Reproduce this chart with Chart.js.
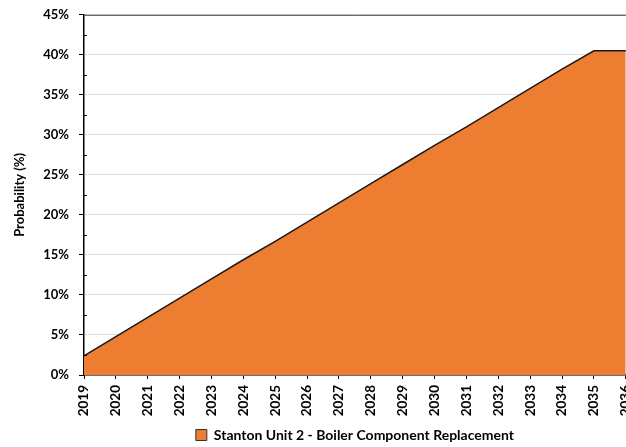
<!DOCTYPE html>
<html>
<head>
<meta charset="utf-8">
<script src="https://cdn.jsdelivr.net/npm/chart.js@4"></script>
<style>
  html, body { margin: 0; padding: 0; background: #fff; overflow: hidden; }
  #wrap { width: 648px; height: 455px; margin-top: -3px; }
</style>
</head>
<body>
<div id="wrap"><canvas id="prob-chart" width="648" height="455"></canvas></div>
<script>
const years = ['2019', '2020', '2021', '2022', '2023', '2024', '2025', '2026', '2027',
               '2028', '2029', '2030', '2031', '2032', '2033', '2034', '2035', '2036'];
const probability = [2.4, 4.8, 7.2, 9.6, 12.0, 14.4, 16.7, 19.1, 21.5,
                     23.9, 26.3, 28.7, 31.0, 33.4, 35.8, 38.2, 40.5, 40.5];
const yTicks = [0, 5, 10, 15, 20, 25, 30, 35, 40, 45];
const seriesName = 'Stanton Unit 2 - Boiler Component Replacement';

const FONT = 'Lato, "Open Sans", sans-serif';
const ORANGE = '#ED7D31';

// small inner tick marks halfway between the labelled y ticks
const minorTicks = {
    id: 'minorTicks',
    afterDraw(chart) {
        const y = chart.scales.y;
        const ctx = chart.ctx;
        ctx.save();
        ctx.strokeStyle = '#000';
        ctx.lineWidth = 1;
        for (let i = 0; i < yTicks.length - 1; i++) {
            const py = Math.round(y.getPixelForValue(yTicks[i] + 2.5)) + 0.5;
            ctx.beginPath();
            ctx.moveTo(chart.chartArea.left, py);
            ctx.lineTo(chart.chartArea.left + 3, py);
            ctx.stroke();
        }
        // frame line along the top of the plot
        ctx.strokeStyle = '#444';
        ctx.beginPath();
        ctx.moveTo(chart.chartArea.left, chart.chartArea.top + 0.5);
        ctx.lineTo(chart.chartArea.right, chart.chartArea.top + 0.5);
        ctx.stroke();
        ctx.restore();
    }
};

new Chart(document.getElementById('prob-chart'), {
    type: 'line',
    data: {
        labels: years,
        datasets: [{
            label: seriesName,
            data: probability,
            fill: 'origin',
            backgroundColor: ORANGE,
            borderColor: '#1a1a1a',
            borderWidth: 1.5,
            pointRadius: 0,
            tension: 0
        }]
    },
    options: {
        responsive: false,
        animation: false,
        layout: { padding: { top: 11, right: 12, left: 12, bottom: 0 } },
        scales: {
            x: {
                offset: false,
                grid: {
                    display: true,
                    drawOnChartArea: false,
                    color: '#000',
                    tickLength: 4
                },
                border: { color: '#000', width: 1.5 },
                ticks: {
                    autoSkip: false,
                    maxRotation: 90,
                    minRotation: 90,
                    color: '#000',
                    padding: 6,
                    font: { family: FONT, size: 13.5, weight: 'bold' }
                },
                afterFit(scale) { scale.height = 53; }
            },
            y: {
                min: 0,
                max: 45,
                afterBuildTicks(scale) {
                    scale.ticks = yTicks.map(v => ({ value: v }));
                },
                grid: {
                    color: '#dcdcdc',
                    tickColor: '#000',
                    tickLength: 5
                },
                border: { color: '#000', width: 1.5 },
                ticks: {
                    color: '#000',
                    padding: 10,
                    font: { family: FONT, size: 13, weight: 'bold' },
                    callback: v => v + '%'
                },
                title: {
                    display: true,
                    text: 'Probability (%)',
                    color: '#000',
                    padding: { top: 0, bottom: 6 },
                    font: { family: FONT, size: 13, weight: 'bold' }
                },
                afterFit(scale) { scale.width = 72; }
            }
        },
        plugins: {
            legend: {
                position: 'bottom',
                fullSize: false,
                labels: {
                    boxWidth: 11,
                    boxHeight: 11,
                    padding: 0,
                    color: '#000',
                    font: { family: FONT, size: 14, weight: 'bold' },
                    generateLabels(chart) {
                        const ds = chart.data.datasets[0];
                        return [{
                            text: ds.label,
                            fillStyle: ORANGE,
                            strokeStyle: '#333',
                            lineWidth: 1,
                            datasetIndex: 0
                        }];
                    }
                }
            },
            tooltip: { enabled: false }
        }
    },
    plugins: [minorTicks]
});
</script>
</body>
</html>
